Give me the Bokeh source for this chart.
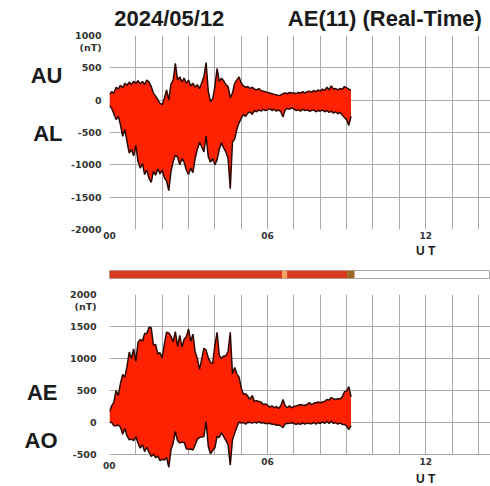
from bokeh.plotting import figure
from bokeh.models import FixedTicker, Range1d, LinearAxis
from bokeh.layouts import column
from bokeh.embed import file_html
from bokeh.resources import INLINE

# ---- data (5-minute samples starting 00:00 UT, nT) ----
AU = [90, 130, 110, 200, 170, 230, 190, 260, 230, 280, 240, 290,
      260, 300, 250, 290, 240, 310, 280, 210, 110, 60, 10, -50,
      -70, 30, 160, 0, 250, 310, 570, 310, 360, 280, 340, 260,
      310, 220, 260, 200, 240, 180, 270, 360, 580, 130, -20, 20,
      210, 490, 290, 340, 300, 240, 210, 40, 110, 260, 310, 360,
      260, 220, 200, 210, 180, 200, 170, 160, 180, 150, 140, 130,
      120, 110, 100, 90, 80, 70, 80, 100, 110, 100, 120, 110,
      110, 100, 120, 110, 130, 110, 130, 140, 120, 150, 130, 160,
      140, 170, 150, 200, 160, 220, 170, 180, 160, 180, 170, 210,
      190, 170, 150]
AL = [-80, -130, -210, -300, -250, -380, -560, -450, -650, -820, -760, -860,
      -700, -950, -1050, -980, -1150, -1080, -1210, -1270, -1100, -1160, -1060, -1140,
      -1080, -1200, -1250, -1400, -1100, -950, -850, -880, -1000, -900, -960, -1080,
      -1150, -1050, -1120, -900, -760, -650, -720, -800, -550, -880, -960, -900,
      -1000, -920, -760, -660, -740, -800, -900, -1370, -650, -600, -450, -350,
      -280, -220, -250, -200, -180, -220, -160, -180, -150, -170, -140, -160,
      -150, -130, -160, -140, -170, -150, -180, -260, -150, -130, -140, -120,
      -140, -160, -150, -170, -140, -160, -150, -170, -160, -150, -180, -160,
      -170, -150, -180, -160, -190, -170, -200, -180, -210, -190, -230, -270,
      -300, -390, -250]
minutes_per_sample = 5
hours = [i * minutes_per_sample / 60 for i in range(len(AU))]
AE = [u - l for u, l in zip(AU, AL)]
AO = [(u + l) / 2 for u, l in zip(AU, AL)]

# data-availability bar
bar_start = [0.0, 6.55, 6.74, 9.02]
bar_end = [6.55, 6.74, 9.02, 9.3]
bar_colors = ["#da3a1c", "#f6a25e", "#da3a1c", "#9a6a22"]

grid_hours = list(range(0, 15))
x_ticks = [0, 6, 12]
x_tick_labels = ["00", "06", "12"]
top_ticks = [-2000, -1500, -1000, -500, 0, 500, 1000]
top_tick_labels = ["-2000", "-1500", "-1000", "-500", "0", "500", "1000"]
bot_ticks = [-500, 0, 500, 1000, 1500, 2000]
bot_tick_labels = ["-500", "0", "500", "1000", "1500", "2000"]
unit_label = "(nT)"
unit_pos_top = 815
unit_pos_bot = 1812
titles = ["2024/05/12", "AE(11) (Real-Time)"]
title_pos = [2.27, 10.45]
top_names = ["AU", "AL"]
top_name_pos = [382, -515]
bot_names = ["AE", "AO"]
bot_name_pos = [469, -281]
ut_label = "U T"
ut_pos = 12

X_END = 14.46
RED = "#ff2200"
EDGE = "#2b0800"
GRID = "#aaaaaa"
TICKFONT = "DejaVu Sans"
BIGFONT = "Liberation Sans"
TXT = "#1a1a1a"

xr = Range1d(0, X_END)


def bare_axis(ax, font, size, standoff, color=TXT):
    ax.axis_line_color = None
    ax.major_tick_line_color = None
    ax.minor_tick_line_color = None
    ax.major_tick_in = 0
    ax.major_tick_out = 0
    ax.major_label_text_font = font
    ax.major_label_text_font_size = size
    ax.major_label_text_font_style = "bold"
    ax.major_label_text_color = color
    ax.major_label_standoff = standoff
    return ax


def extra_axis(ticks, labels, font, size, standoff, color=TXT, **kw):
    ax = LinearAxis(ticker=FixedTicker(ticks=ticks),
                    major_label_overrides=dict(zip(ticks, labels)), **kw)
    return bare_axis(ax, font, size, standoff, color)


def style_common(p, yticks, ylabels, unit_pos, ystandoff):
    p.outline_line_color = None
    p.xgrid.ticker = FixedTicker(ticks=grid_hours)
    p.ygrid.ticker = FixedTicker(ticks=yticks)
    p.grid.grid_line_color = GRID
    p.grid.grid_line_width = 1
    p.xaxis.ticker = FixedTicker(ticks=x_ticks)
    p.xaxis.major_label_overrides = dict(zip(x_ticks, x_tick_labels))
    p.yaxis.ticker = FixedTicker(ticks=yticks + [unit_pos])
    p.yaxis.major_label_overrides = dict(zip(yticks + [unit_pos], ylabels + [unit_label]))
    bare_axis(p.xaxis[0], TICKFONT, "9px", 2, "#333333")
    bare_axis(p.yaxis[0], TICKFONT, "9.5px", ystandoff, "#333333")


# ---- top panel: AU / AL ----
p1 = figure(width=490, height=262, x_range=xr, y_range=Range1d(-2000, 1000),
            output_backend="svg", toolbar_location=None,
            min_border_left=109, min_border_right=0, min_border_top=35, min_border_bottom=33)
style_common(p1, top_ticks, top_tick_labels, unit_pos_top, 8)
p1.varea(x=hours, y1=AL, y2=AU, fill_color=RED)
p1.line(hours, AU, line_color=EDGE, line_width=1.5)
p1.line(hours, AL, line_color=EDGE, line_width=1.5)
p1.add_layout(extra_axis(title_pos, titles, BIGFONT, "22px", 5), "above")
p1.add_layout(extra_axis([ut_pos], [ut_label], BIGFONT, "12px", 2), "below")
p1.add_layout(extra_axis(top_name_pos, top_names, BIGFONT, "22px", 6), "left")

# ---- availability bar ----
pb = figure(width=490, height=24, x_range=xr, y_range=Range1d(0, 1),
            output_backend="svg", toolbar_location=None,
            min_border_left=109, min_border_right=0, min_border_top=8, min_border_bottom=8)
pb.axis.visible = False
pb.grid.visible = False
pb.outline_line_color = GRID
pb.quad(left=bar_start, right=bar_end, bottom=0, top=1, fill_color=bar_colors, line_color=None)

# ---- bottom panel: AE / AO ----
Y2_FLOOR = -1000
p2 = figure(width=490, height=200, x_range=xr, y_range=Range1d(Y2_FLOOR, 2000),
            output_backend="svg", toolbar_location=None,
            min_border_left=109, min_border_right=0, min_border_top=8, min_border_bottom=0)
style_common(p2, bot_ticks, bot_tick_labels, unit_pos_bot, 3)
p2.xaxis.fixed_location = bot_ticks[0]
p2.xaxis.major_label_standoff = 3
p2.yaxis.bounds = (bot_ticks[0], bot_ticks[-1])
# "00" label placed via a zero-width left axis hugging the frame (fixed axes are clipped)
zero_axis = extra_axis([-672], [x_tick_labels[0]], TICKFONT, "9px", -6, "#333333")
ut_axis = extra_axis([ut_pos], [ut_label], BIGFONT, "12px", 17)
ut_axis.fixed_location = bot_ticks[0]
p2.add_layout(ut_axis, "below")
name_axis = extra_axis(bot_name_pos, bot_names, BIGFONT, "22px", 10)
p2.left = [zero_axis] + list(p2.left) + [name_axis]
p2.xaxis[0].major_label_overrides = {6: "06", 12: "12", 0: ""}

# white mask below the panel floor so grid stops at -500 while data may overshoot
p2.quad(left=[0], right=[X_END], bottom=[Y2_FLOOR], top=[bot_ticks[0]],
        fill_color="white", line_color=None)
p2.segment(x0=[0], x1=[X_END], y0=[bot_ticks[0]], y1=[bot_ticks[0]], line_color=GRID)
p2.varea(x=hours, y1=AO, y2=AE, fill_color=RED)
p2.line(hours, AE, line_color=EDGE, line_width=1.5)
p2.line(hours, AO, line_color=EDGE, line_width=1.5)

layout = column(p1, pb, p2)
open("out.html", "w").write(file_html(layout, INLINE))
